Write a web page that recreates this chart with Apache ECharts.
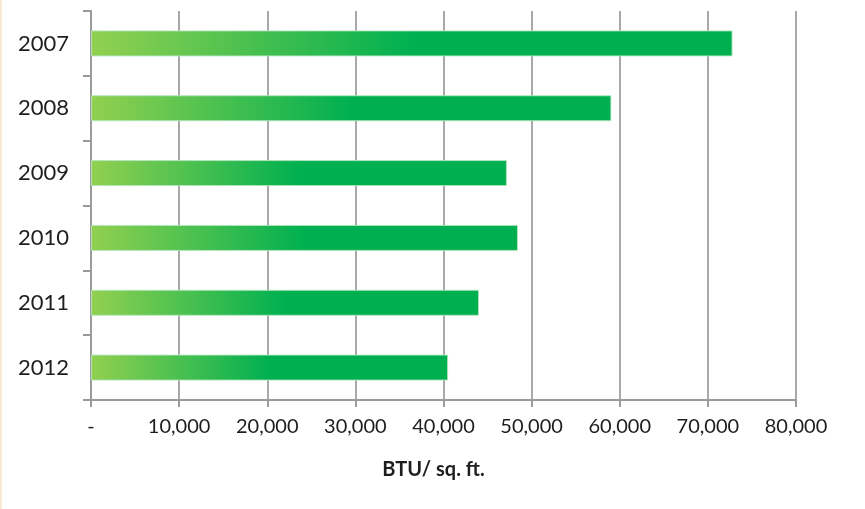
<!DOCTYPE html>
<html><head><meta charset="utf-8">
<script src="https://cdn.jsdelivr.net/npm/echarts@6/dist/echarts.min.js"></script>
<style>html,body{margin:0;padding:0;background:#fff}#c{width:865px;height:509px}</style>
</head><body><div id="c"></div>
<script>
var categories = ['2007','2008','2009','2010','2011','2012'];
var values = [72800, 59050, 47200, 48450, 44030, 40520];
var xTicks = [0, 10000, 20000, 30000, 40000, 50000, 60000, 70000, 80000];
var axisName = 'BTU/ sq. ft.';

var chart = echarts.init(document.getElementById('c'), null, {renderer:'canvas'});
var font = 'Lato, "Open Sans", sans-serif';
chart.setOption({
  animation:false,
  backgroundColor:'#ffffff',
  graphic:[{type:'rect', left:0, top:0, shape:{x:0,y:0,width:2,height:509}, style:{fill:'#f6ead2'}, silent:true}],
  grid:{left:91, right:69, top:11, bottom:109, containLabel:false},
  xAxis:{
    type:'value', min:xTicks[0], max:xTicks[xTicks.length-1], interval:10000,
    name:axisName, nameLocation:'middle', nameGap:60,
    nameTextStyle:{fontFamily:font, fontSize:20, fontWeight:'bold', color:'#1e1e1e', padding:[0,20,0,0]},
    axisLine:{show:true, lineStyle:{color:'#9a9a9a', width:2}},
    axisTick:{show:true, length:7, lineStyle:{color:'#9a9a9a', width:2}},
    splitLine:{show:true, lineStyle:{color:'#a8a8a8', width:2}},
    axisLabel:{fontFamily:font, fontSize:20, color:'#1e1e1e', margin:17,
      formatter:function(v){ return v===0 ? '-' : v.toLocaleString('en-US'); }}
  },
  yAxis:{
    type:'category', data:categories, inverse:true,
    axisLine:{show:true, lineStyle:{color:'#9a9a9a', width:2}},
    axisTick:{show:true, length:8, alignWithLabel:false, lineStyle:{color:'#9a9a9a', width:2}},
    axisLabel:{fontFamily:font, fontSize:22, color:'#1e1e1e', margin:22},
    splitLine:{show:false}
  },
  series:[{
    type:'bar', data:values, barWidth:26,
    itemStyle:{
      color:new echarts.graphic.LinearGradient(0,0,1,0,[
        {offset:0, color:'#92d050'},
        {offset:0.5, color:'#00b050'},
        {offset:1, color:'#00b050'}
      ]),
      borderColor:'rgba(180,230,190,0.9)', borderWidth:1
    }
  }]
});
</script></body></html>
